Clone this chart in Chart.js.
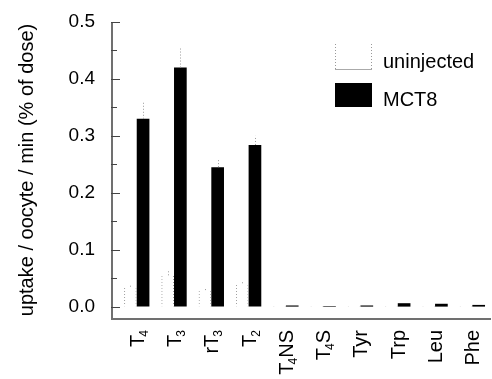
<!DOCTYPE html>
<html>
<head>
<meta charset="utf-8">
<script src="https://cdn.jsdelivr.net/npm/chart.js@4.4.0/dist/chart.umd.min.js"></script>
<style>
  body { margin: 0; background: #fff; }
  #wrap { width: 492px; height: 379px; }
</style>
</head>
<body>
<div id="wrap"><canvas id="uptakeChart" width="492" height="379"></canvas></div>
<script>
// values
const categories = ['T4', 'T3', 'rT3', 'T2', 'T4NS', 'T4S', 'Tyr', 'Trp', 'Leu', 'Phe'];
const uninjected = [0.035, 0.055, 0.029, 0.041, 0.002, 0.001, 0.001, 0.001, 0.001, 0.002];
const uninjectedErr = [0.004, 0.009, 0.003, 0.003, 0, 0, 0, 0, 0, 0];
const mct8 = [0.330, 0.420, 0.245, 0.284, 0.002, 0.001, 0.002, 0.006, 0.005, 0.003];
const mct8Err = [0.031, 0.035, 0.014, 0.016, 0, 0, 0, 0, 0, 0];
const yTicks = [0, 0.1, 0.2, 0.3, 0.4, 0.5];
const yMinorTicks = [0.05, 0.15, 0.25, 0.35, 0.45];
const seriesNames = ['uninjected', 'MCT8'];

const FONT = '"Liberation Sans", Arial, Helvetica, sans-serif';

// dotted gray used for the outline of the uninjected bars
function dotPattern() {
  const c = document.createElement('canvas');
  c.width = 1;
  c.height = 3;
  const g = c.getContext('2d');
  g.fillStyle = '#999';
  g.fillRect(0, 0, 1, 1);
  return document.getElementById('uptakeChart').getContext('2d').createPattern(c, 'repeat');
}

// error bars, dotted, drawn up from the top of each bar
const errorBars = {
  id: 'errorBars',
  afterDatasetsDraw(chart) {
    const ctx = chart.ctx;
    const y = chart.scales.y;
    const errs = [uninjectedErr, mct8Err];
    chart.data.datasets.forEach((ds, di) => {
      const meta = chart.getDatasetMeta(di);
      meta.data.forEach((bar, i) => {
        const e = errs[di][i];
        if (!e) return;
        const v = ds.data[i].y;
        ctx.save();
        ctx.strokeStyle = '#999';
        ctx.lineWidth = 1;
        ctx.setLineDash([1, 2]);
        ctx.beginPath();
        ctx.moveTo(Math.round(bar.x) + 0.5, y.getPixelForValue(v));
        ctx.lineTo(Math.round(bar.x) + 0.5, y.getPixelForValue(v + e));
        ctx.stroke();
        ctx.restore();
      });
    });
  }
};

// axis lines and inward tick marks
const axesAndTicks = {
  id: 'axesAndTicks',
  afterDraw(chart) {
    const ctx = chart.ctx;
    const y = chart.scales.y;
    const area = chart.chartArea;
    const left = Math.round(area.left);
    const bottom = Math.round(area.bottom);
    const top = Math.round(area.top);
    ctx.save();
    ctx.fillStyle = '#707070';
    ctx.fillRect(left, top, 2, bottom - top + 2);
    ctx.fillRect(left, bottom, Math.round(area.right) - left, 2);
    ctx.fillStyle = '#444';
    yTicks.forEach(v => {
      const p = Math.round(y.getPixelForValue(v));
      ctx.fillRect(left, p, 9, 1);
    });
    yMinorTicks.forEach(v => {
      const p = Math.round(y.getPixelForValue(v));
      ctx.fillRect(left, p, 6, 1);
    });
    ctx.restore();
  }
};

// rotated category labels with subscript digits
const xLabels = {
  id: 'xLabels',
  afterDraw(chart) {
    const ctx = chart.ctx;
    const x = chart.scales.x;
    const top = chart.chartArea.bottom + 12;
    const mainFont = '20px ' + FONT;
    const subFont = '12px ' + FONT;
    ctx.save();
    ctx.fillStyle = '#000';
    ctx.textBaseline = 'alphabetic';
    ctx.textAlign = 'left';
    categories.forEach((name, i) => {
      const parts = name.split(/(\d)/).filter(p => p);
      let total = 0;
      const widths = parts.map((p, k) => {
        const sub = /\d/.test(p);
        ctx.font = sub ? subFont : mainFont;
        let w = ctx.measureText(p).width;
        if (sub && k > 0 && parts[k - 1].endsWith('T')) w -= 2;
        total += w;
        return w;
      });
      const cx = x.getPixelForValue(i);
      ctx.save();
      ctx.translate(cx, top);
      ctx.rotate(-Math.PI / 2);
      let pos = -total;
      parts.forEach((p, k) => {
        const sub = /\d/.test(p);
        ctx.font = sub ? subFont : mainFont;
        const shift = sub && k > 0 && parts[k - 1].endsWith('T') ? -2 : 0;
        ctx.fillText(p, pos + shift, sub ? 11 : 7);
        pos += widths[k];
      });
      ctx.restore();
    });
    ctx.restore();
  }
};

// legend in the upper right of the plot
const boxLegend = {
  id: 'boxLegend',
  afterDraw(chart) {
    const ctx = chart.ctx;
    ctx.save();
    // uninjected: dotted sides, gray base
    ctx.strokeStyle = '#999';
    ctx.lineWidth = 1;
    ctx.setLineDash([1, 2]);
    ctx.beginPath();
    ctx.moveTo(335.5, 44); ctx.lineTo(335.5, 69);
    ctx.moveTo(371.5, 44); ctx.lineTo(371.5, 69);
    ctx.stroke();
    ctx.setLineDash([]);
    ctx.fillStyle = '#aaa';
    ctx.fillRect(335, 69, 37, 1);
    // MCT8: solid black
    ctx.fillStyle = '#000';
    ctx.fillRect(335, 83, 37, 24);
    ctx.font = '20px ' + FONT;
    ctx.textBaseline = 'alphabetic';
    ctx.fillText(seriesNames[0], 383, 68);
    ctx.fillText(seriesNames[1], 383, 106);
    ctx.restore();
  }
};

new Chart(document.getElementById('uptakeChart'), {
  type: 'bar',
  data: {
    datasets: [
      {
        label: seriesNames[0],
        data: uninjected.map((v, i) => ({ x: i, y: v })),
        backgroundColor: 'rgba(0,0,0,0)',
        borderColor: dotPattern(),
        borderWidth: { left: 1, right: 1, top: 0, bottom: 0 },
        borderSkipped: false
      },
      {
        label: seriesNames[1],
        data: mct8.map((v, i) => ({ x: i, y: v })),
        backgroundColor: '#000',
        borderWidth: 0
      }
    ]
  },
  options: {
    responsive: false,
    animation: false,
    devicePixelRatio: 1,
    layout: { padding: { top: 22, right: 1, left: 0, bottom: 0 } },
    datasets: { bar: { barPercentage: 1, categoryPercentage: 0.68 } },
    plugins: { legend: { display: false }, tooltip: { enabled: false } },
    scales: {
      x: {
        type: 'linear',
        offset: false,
        min: -0.69,
        max: 9.5,
        grid: { display: false, offset: false },
        border: { display: false },
        ticks: { display: false },
        afterFit: s => { s.height = 61; }
      },
      y: {
        min: -0.02,
        max: 0.5,
        afterBuildTicks: s => { s.ticks = yTicks.map(v => ({ value: v })); },
        grid: { display: false, drawTicks: false },
        border: { display: false },
        ticks: {
          padding: 16,
          color: '#000',
          font: { family: FONT, size: 19 },
          callback: v => v.toFixed(1)
        },
        title: {
          display: true,
          text: 'uptake / oocyte / min (% of dose)',
          color: '#000',
          font: { family: FONT, size: 20 },
          padding: { top: 15, bottom: 0 }
        },
        afterFit: s => {
          s.width = 111;
          s.paddingTop = 0;
          s.paddingBottom = 0;
        }
      }
    }
  },
  plugins: [errorBars, axesAndTicks, xLabels, boxLegend]
});
</script>
</body>
</html>
